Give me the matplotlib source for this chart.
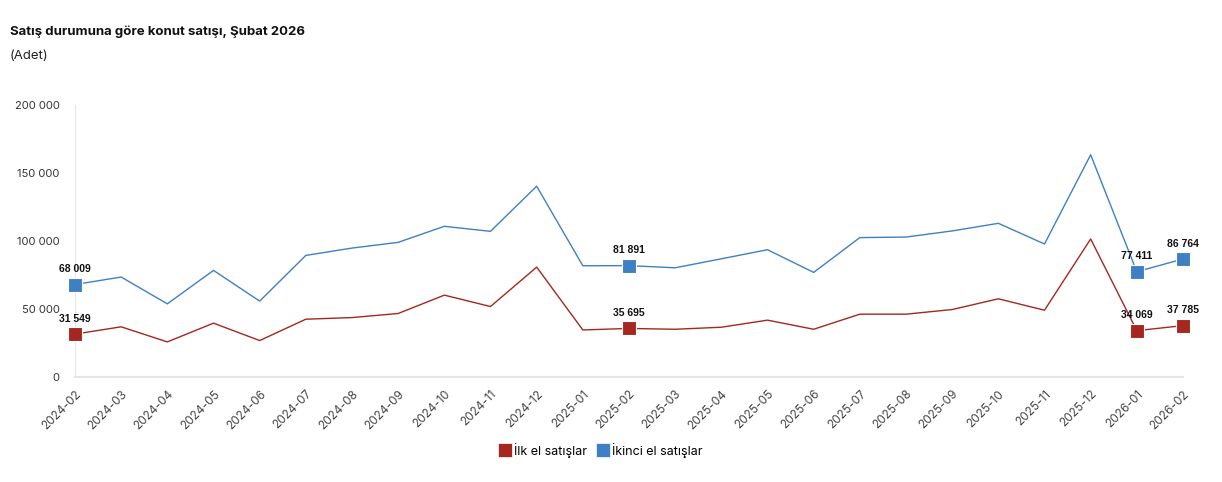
import matplotlib
matplotlib.use("Agg")
import matplotlib.pyplot as plt
from matplotlib.lines import Line2D

months = ["2024-02", "2024-03", "2024-04", "2024-05", "2024-06", "2024-07", "2024-08",
          "2024-09", "2024-10", "2024-11", "2024-12", "2025-01", "2025-02", "2025-03",
          "2025-04", "2025-05", "2025-06", "2025-07", "2025-08", "2025-09", "2025-10",
          "2025-11", "2025-12", "2026-01", "2026-02"]
ilk_el = [31549, 36900, 25800, 39600, 26800, 42500, 43700, 46700, 60200, 51800, 80800,
          34600, 35695, 35100, 36600, 41800, 35100, 46200, 46200, 49600, 57500, 49100,
          101500, 34069, 37785]
ikinci_el = [68009, 73500, 53800, 78400, 55800, 89400, 94800, 99000, 110800, 107100,
             140300, 81800, 81891, 80300, 86900, 93600, 76900, 102500, 102900, 107400,
             113000, 97800, 163400, 77411, 86764]
highlight_idx = [0, 12, 23, 24]
series_names = ["İlk el satışlar", "İkinci el satışlar"]
yticks = [0, 50000, 100000, 150000, 200000]

RED = "#A5271F"
BLUE = "#3F80C4"

plt.rcParams['font.family'] = ['Inter', 'DejaVu Sans']

fig = plt.figure(figsize=(12.22, 4.82), dpi=100)
ax = fig.add_axes([75/1222, 1-377/482, (1183-75)/1222, (377-105)/482])

x = list(range(len(months)))
ax.plot(x, ilk_el, color=RED, lw=1.0, zorder=3)
ax.plot(x, ikinci_el, color=BLUE, lw=1.0, zorder=3)

def fmt(v):
    return f"{v:,}".replace(",", " ")

for i in highlight_idx:
    for vals, c in ((ilk_el, RED), (ikinci_el, BLUE)):
        ax.plot(i, vals[i], marker='s', ms=10, color=c, mec='white', mew=0.8, zorder=4,
                clip_on=False)
        ax.annotate(fmt(vals[i]), (i, vals[i]), xytext=(0, 7.5), textcoords='offset points',
                    ha='center', va='bottom', fontsize=7.5, fontweight='bold',
                    family=['Liberation Sans Narrow', 'Liberation Sans', 'DejaVu Sans'],
                    color='#111111', zorder=5, annotation_clip=False)

ax.set_xlim(0, len(months) - 1)
ax.set_ylim(0, 200000)
ax.set_yticks(yticks)
ax.set_yticklabels([fmt(v) for v in yticks], fontsize=8, color='#333333')
ax.set_xticks(x)
ax.set_xticklabels(months, rotation=45, ha='right', rotation_mode='anchor',
                   fontsize=8.5, color='#444444')
ax.tick_params(axis='both', length=0)
ax.tick_params(axis='y', pad=11)
ax.tick_params(axis='x', pad=8)

for s in ['top', 'right']:
    ax.spines[s].set_visible(False)
ax.spines['left'].set_color('#e6e6e6')
ax.spines['bottom'].set_color('#e6e6e6')
ax.spines['bottom'].set_linewidth(1.5)

fig.text(10/1222, 1-32/482, "Satış durumuna göre konut satışı, Şubat 2026",
         fontsize=9.5, fontweight='bold', color='#111111', va='center', ha='left')
fig.text(10/1222, 1-56/482, "(Adet)", fontsize=9.5, color='#222222', va='center', ha='left')

handles = [Line2D([], [], marker='s', ls='none', ms=10, color=RED, mec='white', mew=0.5),
           Line2D([], [], marker='s', ls='none', ms=10, color=BLUE, mec='white', mew=0.5)]
fig.legend(handles, series_names, loc='center', bbox_to_anchor=(600/1222, 1-450/482),
           ncol=2, frameon=False, fontsize=9, handletextpad=0.2, columnspacing=0.6,
           handlelength=1.2)

fig.savefig("out.png", dpi=100)
